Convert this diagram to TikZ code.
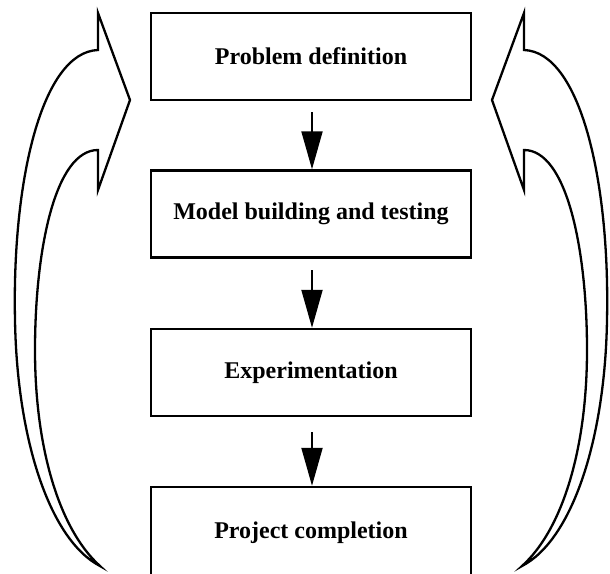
\documentclass[tikz,border=0pt]{standalone}
\usepackage{fontspec}
\setmainfont{Liberation Serif}
\usetikzlibrary{arrows.meta}
\tikzset{
  stagebox/.style={draw, line width=2.4pt, minimum width=320pt, minimum height=87pt,
    inner sep=0pt, font=\bfseries\fontsize{24}{28}\selectfont},
  flowarrow/.style={line width=2pt, -{Triangle[length=38pt,width=21pt]}},
  bigarrow/.style={draw, line width=2.3pt, line join=miter, fill=white}
}
\newcommand\myLoopArrow{%
  \draw[bigarrow] (100,566) .. controls (50,540) and (17,440) .. (15,320)
    .. controls (12,180) and (42,52) .. (98,50)
    -- (98,13) -- (130,100) -- (98,190) -- (98,150)
    .. controls (55,150) and (35,250) .. (35,350)
    .. controls (35,450) and (60,530) .. (100,566) -- cycle;}
\begin{document}
\begin{tikzpicture}[x=1pt,y=-1pt]
\clip (0,0) rectangle (610,573);
\fill[white] (0,0) rectangle (610,573);

\node[stagebox] (b1) at (311,56.5) {Problem definition};
\node[stagebox] (b2) at (311,214)  {Model building and testing};
\node[stagebox] (b3) at (311,372.5) {Experimentation};
\node[stagebox, minimum height=92pt] (b4) at (311,533) {Project completion};

\coordinate (s1) at (312,112);
\coordinate (s2) at (312,270);
\coordinate (s3) at (312,432);
\draw[flowarrow] (s1) -- (s1 |- b2.north);
\draw[flowarrow] (s2) -- (s2 |- b3.north);
\draw[flowarrow] (s3) -- (s3 |- b4.north);

\begin{scope}
  \myLoopArrow
\end{scope}
\begin{scope}[shift={(622,0)}, xscale=-1]
  \myLoopArrow
\end{scope}
\end{tikzpicture}
\end{document}
